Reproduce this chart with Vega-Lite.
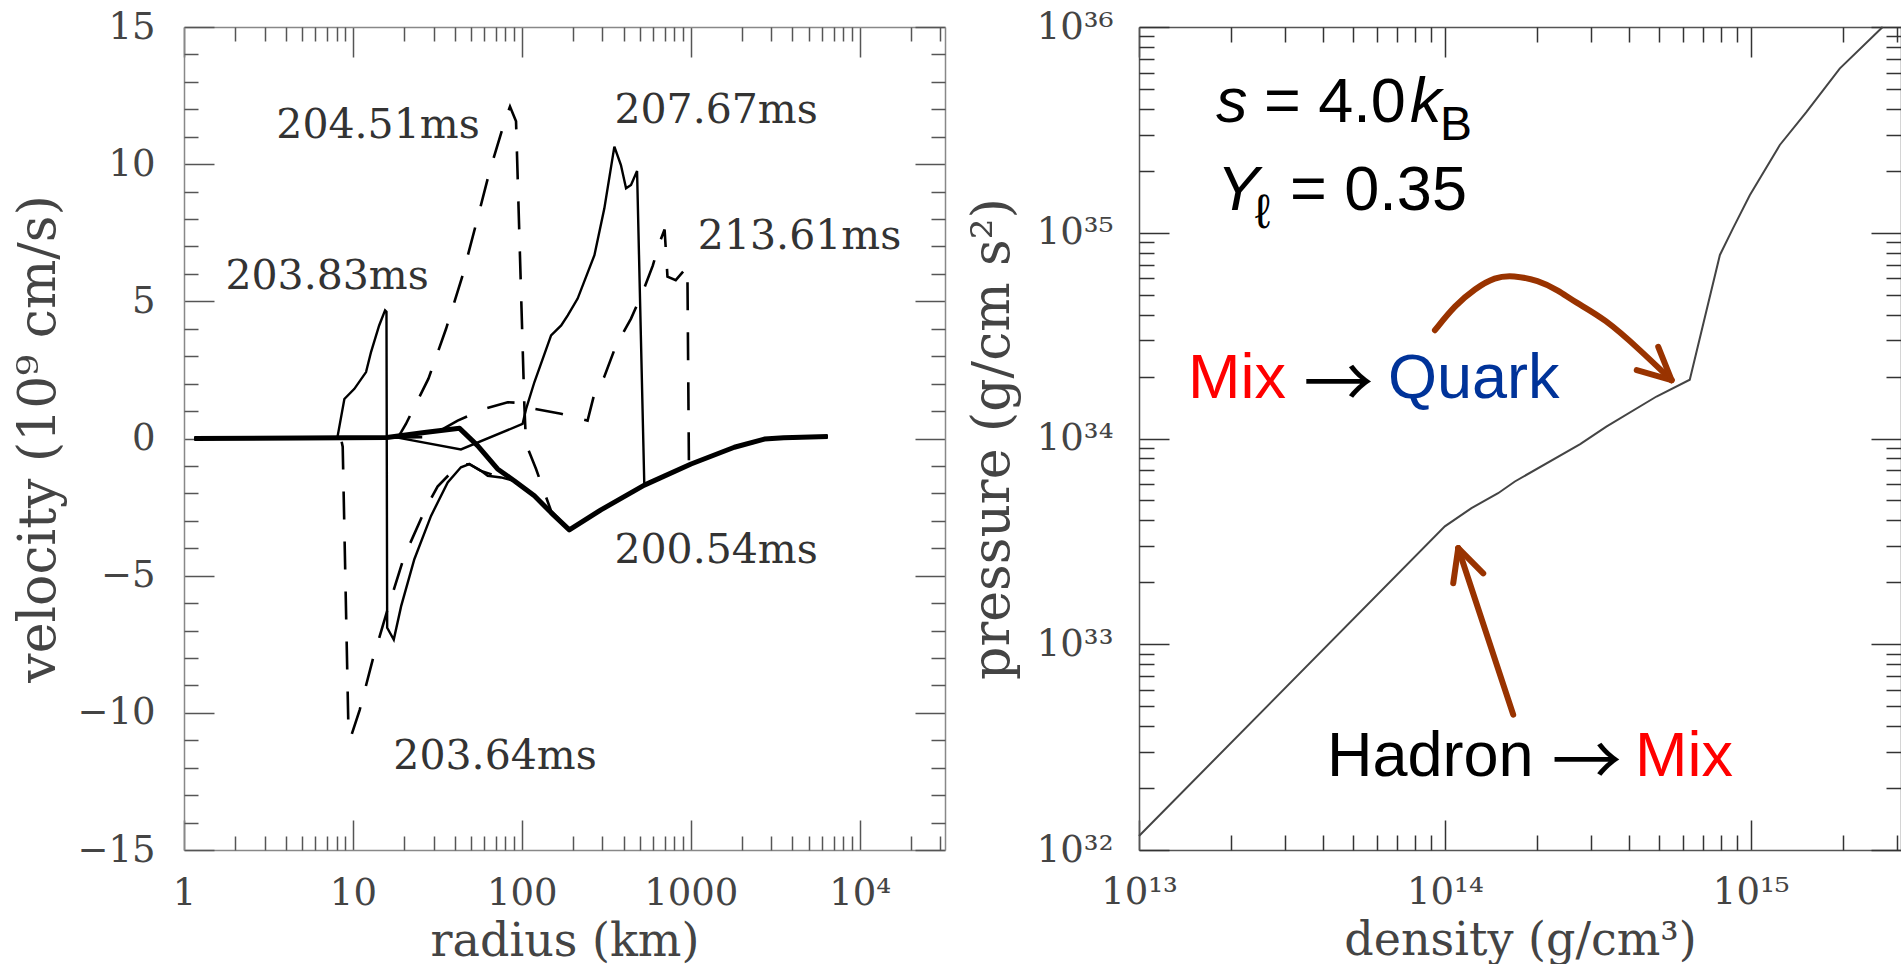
{
  "$schema": "https://vega.github.io/schema/vega-lite/v6.json",
  "background": "white",
  "padding": {"left": 12, "top": 8, "right": 4, "bottom": 0},
  "spacing": 20,
  "config": {
    "view": {"stroke": null},
    "axis": {"grid": false, "labelFlush": false, "labelOverlap": false, "labelBound": false, "titleFontWeight": "normal", "labelFont": "DejaVu Serif", "titleFont": "DejaVu Serif"}
  },
  "datasets": {
    "infall": [
      {"i": 1, "r": 1.15, "v": 0}, {"i": 2, "r": 5, "v": 0.02}, {"i": 3, "r": 15.9, "v": 0.04},
      {"i": 4, "r": 26.5, "v": 0.22}, {"i": 5, "r": 42.8, "v": 0.37}, {"i": 6, "r": 54.7, "v": -0.26},
      {"i": 7, "r": 71.8, "v": -1.11}, {"i": 8, "r": 90.1, "v": -1.54}, {"i": 9, "r": 118.6, "v": -2.09},
      {"i": 10, "r": 148.9, "v": -2.7}, {"i": 11, "r": 191, "v": -3.33}, {"i": 12, "r": 294, "v": -2.6},
      {"i": 13, "r": 531, "v": -1.7}, {"i": 14, "r": 1004, "v": -0.93}, {"i": 15, "r": 1812, "v": -0.32},
      {"i": 16, "r": 2729, "v": -0.02}, {"i": 17, "r": 3550, "v": 0.03}, {"i": 18, "r": 6470, "v": 0.07}
    ],
    "solid": [
      {"t": "203.83", "i": 1, "r": 1.15, "v": 0}, {"t": "203.83", "i": 2, "r": 8.1, "v": 0.05},
      {"t": "203.83", "i": 3, "r": 8.9, "v": 1.44}, {"t": "203.83", "i": 4, "r": 10.2, "v": 1.81},
      {"t": "203.83", "i": 5, "r": 11.96, "v": 2.42}, {"t": "203.83", "i": 6, "r": 12.8, "v": 3.15},
      {"t": "203.83", "i": 7, "r": 14.3, "v": 4.12}, {"t": "203.83", "i": 8, "r": 15.5, "v": 4.67},
      {"t": "203.83", "i": 9, "r": 15.8, "v": 4.62}, {"t": "203.83", "i": 10, "r": 15.95, "v": -6.9},
      {"t": "203.83", "i": 11, "r": 17.45, "v": -7.33}, {"t": "203.83", "i": 12, "r": 19.3, "v": -6.11},
      {"t": "203.83", "i": 13, "r": 23.1, "v": -4.4}, {"t": "203.83", "i": 14, "r": 29, "v": -2.82},
      {"t": "203.83", "i": 15, "r": 36.4, "v": -1.6}, {"t": "203.83", "i": 16, "r": 43.6, "v": -1.05},
      {"t": "203.83", "i": 17, "r": 48.9, "v": -0.93}, {"t": "203.83", "i": 18, "r": 57.3, "v": -1.18},
      {"t": "203.83", "i": 19, "r": 62.8, "v": -1.36}, {"t": "203.83", "i": 20, "r": 75.3, "v": -1.42},
      {"t": "203.83", "i": 21, "r": 90.1, "v": -1.54}, {"t": "203.83", "i": 22, "r": 118.6, "v": -2.09},
      {"t": "203.83", "i": 23, "r": 148.9, "v": -2.7}, {"t": "203.83", "i": 24, "r": 191, "v": -3.33},
      {"t": "203.83", "i": 25, "r": 294, "v": -2.6}, {"t": "203.83", "i": 26, "r": 531, "v": -1.7},
      {"t": "203.83", "i": 27, "r": 1004, "v": -0.93}, {"t": "203.83", "i": 28, "r": 1812, "v": -0.32},
      {"t": "203.83", "i": 29, "r": 2729, "v": -0.02}, {"t": "203.83", "i": 30, "r": 6470, "v": 0.07},
      {"t": "207.67", "i": 1, "r": 1.15, "v": 0}, {"t": "207.67", "i": 2, "r": 18.4, "v": 0.03},
      {"t": "207.67", "i": 3, "r": 43.6, "v": -0.4}, {"t": "207.67", "i": 4, "r": 101, "v": 0.53},
      {"t": "207.67", "i": 5, "r": 106, "v": 1.08}, {"t": "207.67", "i": 6, "r": 118.6, "v": 2.05},
      {"t": "207.67", "i": 7, "r": 149, "v": 3.76}, {"t": "207.67", "i": 8, "r": 171, "v": 4.12},
      {"t": "207.67", "i": 9, "r": 187, "v": 4.49}, {"t": "207.67", "i": 10, "r": 214, "v": 5.1},
      {"t": "207.67", "i": 11, "r": 269, "v": 6.68}, {"t": "207.67", "i": 12, "r": 308, "v": 8.39},
      {"t": "207.67", "i": 13, "r": 353, "v": 10.64}, {"t": "207.67", "i": 14, "r": 386, "v": 9.97},
      {"t": "207.67", "i": 15, "r": 414, "v": 9.12}, {"t": "207.67", "i": 16, "r": 443, "v": 9.24},
      {"t": "207.67", "i": 17, "r": 481, "v": 9.75}, {"t": "207.67", "i": 18, "r": 531, "v": -1.7},
      {"t": "207.67", "i": 19, "r": 1004, "v": -0.93}, {"t": "207.67", "i": 20, "r": 1812, "v": -0.32},
      {"t": "207.67", "i": 21, "r": 2729, "v": -0.02}, {"t": "207.67", "i": 22, "r": 6470, "v": 0.07}
    ],
    "dashed": [
      {"t": "203.64", "i": 1, "r": 1.15, "v": 0}, {"t": "203.64", "i": 2, "r": 8.5, "v": 0},
      {"t": "203.64", "i": 3, "r": 8.7, "v": -0.3}, {"t": "203.64", "i": 4, "r": 9.4, "v": -10.5},
      {"t": "203.64", "i": 5, "r": 9.7, "v": -10.9}, {"t": "203.64", "i": 6, "r": 10.96, "v": -9.9},
      {"t": "203.64", "i": 7, "r": 13.1, "v": -8.06}, {"t": "203.64", "i": 8, "r": 16, "v": -6.26},
      {"t": "203.64", "i": 9, "r": 20.1, "v": -4.31}, {"t": "203.64", "i": 10, "r": 27, "v": -2.54},
      {"t": "203.64", "i": 11, "r": 31.7, "v": -1.75}, {"t": "203.64", "i": 12, "r": 41.7, "v": -1.0},
      {"t": "203.64", "i": 13, "r": 48.9, "v": -0.93}, {"t": "203.64", "i": 14, "r": 57.3, "v": -1.18},
      {"t": "203.64", "i": 15, "r": 75.3, "v": -1.42}, {"t": "203.64", "i": 16, "r": 90.1, "v": -1.54},
      {"t": "203.64", "i": 17, "r": 118.6, "v": -2.09}, {"t": "203.64", "i": 18, "r": 148.9, "v": -2.7},
      {"t": "203.64", "i": 19, "r": 191, "v": -3.33}, {"t": "203.64", "i": 20, "r": 294, "v": -2.6},
      {"t": "203.64", "i": 21, "r": 531, "v": -1.7}, {"t": "203.64", "i": 22, "r": 1004, "v": -0.93},
      {"t": "203.64", "i": 23, "r": 1812, "v": -0.32}, {"t": "203.64", "i": 24, "r": 2729, "v": -0.02},
      {"t": "203.64", "i": 25, "r": 6470, "v": 0.07},
      {"t": "204.51", "i": 1, "r": 1.15, "v": 0}, {"t": "204.51", "i": 2, "r": 18.5, "v": 0.05},
      {"t": "204.51", "i": 3, "r": 19.3, "v": 0.23}, {"t": "204.51", "i": 4, "r": 20.6, "v": 0.53},
      {"t": "204.51", "i": 5, "r": 28, "v": 2.18}, {"t": "204.51", "i": 6, "r": 35.6, "v": 4.0},
      {"t": "204.51", "i": 7, "r": 44.2, "v": 5.86}, {"t": "204.51", "i": 8, "r": 53.5, "v": 7.8},
      {"t": "204.51", "i": 9, "r": 64.2, "v": 9.7}, {"t": "204.51", "i": 10, "r": 78.8, "v": 11.52},
      {"t": "204.51", "i": 11, "r": 85.1, "v": 12.1}, {"t": "204.51", "i": 12, "r": 92.4, "v": 11.56},
      {"t": "204.51", "i": 13, "r": 103.5, "v": 1.2}, {"t": "204.51", "i": 14, "r": 105.9, "v": -0.2},
      {"t": "204.51", "i": 15, "r": 121.4, "v": -1.11}, {"t": "204.51", "i": 16, "r": 136, "v": -1.97},
      {"t": "204.51", "i": 17, "r": 149, "v": -2.64}, {"t": "204.51", "i": 18, "r": 191, "v": -3.33},
      {"t": "204.51", "i": 19, "r": 294, "v": -2.6}, {"t": "204.51", "i": 20, "r": 531, "v": -1.7},
      {"t": "204.51", "i": 21, "r": 1004, "v": -0.93}, {"t": "204.51", "i": 22, "r": 1812, "v": -0.32},
      {"t": "204.51", "i": 23, "r": 2729, "v": -0.02}, {"t": "204.51", "i": 24, "r": 6470, "v": 0.07},
      {"t": "213.61", "i": 1, "r": 1.15, "v": 0}, {"t": "213.61", "i": 2, "r": 28, "v": 0.05},
      {"t": "213.61", "i": 3, "r": 41.7, "v": 0.65}, {"t": "213.61", "i": 4, "r": 60, "v": 1.08},
      {"t": "213.61", "i": 5, "r": 82.5, "v": 1.32}, {"t": "213.61", "i": 6, "r": 95, "v": 1.3},
      {"t": "213.61", "i": 7, "r": 118.6, "v": 1.08}, {"t": "213.61", "i": 8, "r": 170.6, "v": 0.9},
      {"t": "213.61", "i": 9, "r": 245, "v": 0.65}, {"t": "213.61", "i": 10, "r": 268.7, "v": 1.63},
      {"t": "213.61", "i": 11, "r": 307.7, "v": 2.25}, {"t": "213.61", "i": 12, "r": 361, "v": 3.39},
      {"t": "213.61", "i": 13, "r": 443, "v": 4.37}, {"t": "213.61", "i": 14, "r": 520, "v": 5.34},
      {"t": "213.61", "i": 15, "r": 596, "v": 6.3}, {"t": "213.61", "i": 16, "r": 650, "v": 7.1},
      {"t": "213.61", "i": 17, "r": 700, "v": 7.62}, {"t": "213.61", "i": 18, "r": 728, "v": 5.9},
      {"t": "213.61", "i": 19, "r": 815, "v": 5.77}, {"t": "213.61", "i": 20, "r": 955, "v": 6.26},
      {"t": "213.61", "i": 21, "r": 975, "v": -0.8}, {"t": "213.61", "i": 22, "r": 1004, "v": -0.93},
      {"t": "213.61", "i": 23, "r": 1812, "v": -0.32}, {"t": "213.61", "i": 24, "r": 2729, "v": -0.02},
      {"t": "213.61", "i": 25, "r": 6470, "v": 0.07}
    ],
    "timeLabels": [
      {"label": "204.51ms", "r": 14.08, "v": 11.38},
      {"label": "207.67ms", "r": 1412, "v": 11.93},
      {"label": "213.61ms", "r": 4406, "v": 7.36},
      {"label": "203.83ms", "r": 7.03, "v": 5.9},
      {"label": "200.54ms", "r": 1412, "v": -4.11},
      {"label": "203.64ms", "r": 69.4, "v": -11.6}
    ],
    "eos": [
      {"i": 1, "rho": 1e13, "p": 1.17e32}, {"i": 2, "rho": 1e14, "p": 3.74e33},
      {"i": 3, "rho": 1.222e14, "p": 4.59e33}, {"i": 4, "rho": 1.493e14, "p": 5.42e33},
      {"i": 5, "rho": 1.694e14, "p": 6.18e33}, {"i": 6, "rho": 2.77e14, "p": 9.4e33},
      {"i": 7, "rho": 3.373e14, "p": 1.143e34}, {"i": 8, "rho": 4.92e14, "p": 1.6e34},
      {"i": 9, "rho": 6.32e14, "p": 1.93e34}, {"i": 10, "rho": 7.93e14, "p": 7.8e34},
      {"i": 11, "rho": 8.75e14, "p": 1.05e35}, {"i": 12, "rho": 9.93e14, "p": 1.52e35},
      {"i": 13, "rho": 1.245e15, "p": 2.67e35}, {"i": 14, "rho": 1.52e15, "p": 3.86e35},
      {"i": 15, "rho": 1.954e15, "p": 6.28e35}, {"i": 16, "rho": 2.7e15, "p": 1e36}
    ],
    "curvedArrow": [
      {"i": 1, "rho": 9.28e13, "p": 3.36e34}, {"i": 2, "rho": 1.079e14, "p": 4.44e34},
      {"i": 3, "rho": 1.254e14, "p": 5.35e34}, {"i": 4, "rho": 1.458e14, "p": 6.1e34},
      {"i": 5, "rho": 1.673e14, "p": 6.21e34}, {"i": 6, "rho": 2.02e14, "p": 5.87e34},
      {"i": 7, "rho": 2.349e14, "p": 5.25e34}, {"i": 8, "rho": 2.663e14, "p": 4.6e34},
      {"i": 9, "rho": 3.337e14, "p": 3.82e34}, {"i": 10, "rho": 4.35e14, "p": 2.69e34},
      {"i": 11, "rho": 5.51e14, "p": 1.92e34}
    ],
    "arrowStrokes": [
      {"seg": "shaft", "i": 1, "rho": 1.673e14, "p": 4.55e32}, {"seg": "shaft", "i": 2, "rho": 1.106e14, "p": 2.93e33},
      {"seg": "headA1", "i": 1, "rho": 1.065e14, "p": 1.98e33}, {"seg": "headA1", "i": 2, "rho": 1.106e14, "p": 2.93e33},
      {"seg": "headA2", "i": 1, "rho": 1.335e14, "p": 2.21e33}, {"seg": "headA2", "i": 2, "rho": 1.106e14, "p": 2.93e33},
      {"seg": "headB1", "i": 1, "rho": 4.24e14, "p": 2.15e34}, {"seg": "headB1", "i": 2, "rho": 5.51e14, "p": 1.92e34},
      {"seg": "headB2", "i": 1, "rho": 4.985e14, "p": 2.79e34}, {"seg": "headB2", "i": 2, "rho": 5.51e14, "p": 1.92e34}
    ],
    "phases": [
      {"t": "Mix", "rho": 1.446e13, "p": 1.576e34},
      {"t": "Quark", "rho": 6.52e13, "p": 1.576e34},
      {"t": "Hadron", "rho": 4.118e13, "p": 2.284e32},
      {"t": "Mix", "rho": 4.182e14, "p": 2.284e32}
    ],
    "phaseArrows": [
      {"t": "→", "rho": 4.49e13, "p": 1.789e34},
      {"t": "→", "rho": 2.908e14, "p": 2.594e32}
    ],
    "paramItalic": [
      {"t": "s", "rho": 1.785e13, "p": 3.44e35},
      {"t": "k", "rho": 7.69e13, "p": 3.44e35},
      {"t": "Y", "rho": 1.8e13, "p": 1.288e35}
    ],
    "paramPlain": [
      {"t": "= 4.0", "rho": 2.563e13, "p": 3.44e35},
      {"t": "= 0.35", "rho": 3.117e13, "p": 1.288e35}
    ],
    "paramSub": [
      {"t": "B", "rho": 9.64e13, "p": 2.81e35},
      {"t": "ℓ", "rho": 2.394e13, "p": 1.053e35}
    ]
  },
  "hconcat": [
    {
      "width": 761,
      "height": 823,
      "resolve": {"axis": {"x": "independent", "y": "independent"}},
      "layer": [
        {
          "data": {"name": "infall"},
          "mark": {"type": "line", "color": "black", "strokeWidth": 5, "strokeJoin": "round"},
          "encoding": {
            "x": {"field": "r", "type": "quantitative", "scale": {"type": "log", "domain": [1, 32000]},
              "axis": {"orient": "bottom", "values": [1, 10, 100, 1000, 10000], "tickSize": -30, "tickWidth": 1.5, "tickColor": "#555",
                "domain": true, "domainColor": "#888", "domainWidth": 1.5,
                "labelExpr": "datum.value > 5000 ? '10⁴' : format(datum.value, 'd')",
                "labelFontSize": 37, "labelColor": "#444", "labelPadding": 55,
                "title": "radius (km)", "titleFontSize": 46, "titleColor": "#444", "titlePadding": 8}},
            "y": {"field": "v", "type": "quantitative", "scale": {"domain": [-15, 15]},
              "axis": {"orient": "left", "values": [-15, -10, -5, 0, 5, 10, 15], "tickSize": -30, "tickWidth": 1.5, "tickColor": "#555",
                "domain": true, "domainColor": "#888", "domainWidth": 1.5, "format": "d",
                "labelFontSize": 37, "labelColor": "#444", "labelPadding": 59,
                "title": "velocity (10⁹ cm/s)", "titleFontSize": 52, "titleColor": "#444", "titlePadding": 11}},
            "order": {"field": "i"}
          }
        },
        {
          "data": {"name": "solid"},
          "mark": {"type": "line", "color": "black", "strokeWidth": 2.4},
          "encoding": {
            "x": {"field": "r", "type": "quantitative", "scale": {"type": "log", "domain": [1, 32000]},
              "axis": {"orient": "bottom", "values": [2, 3, 4, 5, 6, 7, 8, 9, 20, 30, 40, 50, 60, 70, 80, 90, 200, 300, 400, 500, 600, 700, 800, 900, 2000, 3000, 4000, 5000, 6000, 7000, 8000, 9000, 20000, 30000],
                "tickSize": -14, "tickWidth": 1.5, "tickColor": "#555", "domain": false, "labels": false, "title": null}},
            "y": {"field": "v", "type": "quantitative", "scale": {"domain": [-15, 15]},
              "axis": {"orient": "left", "values": [-14, -13, -12, -11, -9, -8, -7, -6, -4, -3, -2, -1, 1, 2, 3, 4, 6, 7, 8, 9, 11, 12, 13, 14],
                "tickSize": -14, "tickWidth": 1.5, "tickColor": "#555", "domain": false, "labels": false, "title": null}},
            "detail": {"field": "t"},
            "order": {"field": "i"}
          }
        },
        {
          "data": {"name": "dashed"},
          "mark": {"type": "line", "color": "black", "strokeWidth": 2.6, "strokeDash": [28, 22]},
          "encoding": {
            "x": {"field": "r", "type": "quantitative", "scale": {"type": "log", "domain": [1, 32000]},
              "axis": {"orient": "top", "values": [1, 10, 100, 1000, 10000], "tickSize": -30, "tickWidth": 1.5, "tickColor": "#555",
                "domain": true, "domainColor": "#888", "domainWidth": 1.5, "labels": false, "title": null}},
            "y": {"field": "v", "type": "quantitative", "scale": {"domain": [-15, 15]},
              "axis": {"orient": "right", "values": [-15, -10, -5, 0, 5, 10, 15], "tickSize": -30, "tickWidth": 1.5, "tickColor": "#555",
                "domain": true, "domainColor": "#888", "domainWidth": 1.5, "labels": false, "title": null}},
            "detail": {"field": "t"},
            "order": {"field": "i"}
          }
        },
        {
          "data": {"name": "timeLabels"},
          "mark": {"type": "text", "font": "DejaVu Serif", "fontSize": 41, "color": "#333", "align": "center", "baseline": "middle"},
          "encoding": {
            "x": {"field": "r", "type": "quantitative", "scale": {"type": "log", "domain": [1, 32000]},
              "axis": {"orient": "top", "values": [2, 3, 4, 5, 6, 7, 8, 9, 20, 30, 40, 50, 60, 70, 80, 90, 200, 300, 400, 500, 600, 700, 800, 900, 2000, 3000, 4000, 5000, 6000, 7000, 8000, 9000, 20000, 30000],
                "tickSize": -14, "tickWidth": 1.5, "tickColor": "#555", "domain": false, "labels": false, "title": null}},
            "y": {"field": "v", "type": "quantitative", "scale": {"domain": [-15, 15]},
              "axis": {"orient": "right", "values": [-14, -13, -12, -11, -9, -8, -7, -6, -4, -3, -2, -1, 1, 2, 3, 4, 6, 7, 8, 9, 11, 12, 13, 14],
                "tickSize": -14, "tickWidth": 1.5, "tickColor": "#555", "domain": false, "labels": false, "title": null}},
            "text": {"field": "label"}
          }
        }
      ]
    },
    {
      "width": 762,
      "height": 823,
      "resolve": {"axis": {"x": "independent", "y": "independent"}},
      "layer": [
        {
          "data": {"name": "eos"},
          "mark": {"type": "line", "color": "#444", "strokeWidth": 2},
          "encoding": {
            "x": {"field": "rho", "type": "quantitative", "scale": {"type": "log", "domain": [1e13, 3.1e15]},
              "axis": {"orient": "bottom", "values": [1e13, 1e14, 1e15], "tickSize": -30, "tickWidth": 1.5, "tickColor": "#333",
                "domain": true, "domainColor": "#555", "domainWidth": 1.5,
                "labelExpr": "datum.value < 5e13 ? '10¹³' : datum.value < 5e14 ? '10¹⁴' : '10¹⁵'",
                "labelFontSize": 37, "labelColor": "#444", "labelPadding": 54,
                "title": "density (g/cm³)", "titleFontSize": 46, "titleColor": "#444", "titlePadding": 8}},
            "y": {"field": "p", "type": "quantitative", "scale": {"type": "log", "domain": [1e32, 1e36]},
              "axis": {"orient": "left", "values": [1e32, 1e33, 1e34, 1e35, 1e36], "tickSize": -30, "tickWidth": 1.5, "tickColor": "#333",
                "domain": true, "domainColor": "#555", "domainWidth": 1.5,
                "labelExpr": "datum.value < 5e32 ? '10³²' : datum.value < 5e33 ? '10³³' : datum.value < 5e34 ? '10³⁴' : datum.value < 5e35 ? '10³⁵' : '10³⁶'",
                "labelFontSize": 37, "labelColor": "#444", "labelPadding": 56,
                "title": "pressure (g/cm s²)", "titleFontSize": 52, "titleColor": "#444", "titlePadding": 17}},
            "order": {"field": "i"}
          }
        },
        {
          "data": {"name": "curvedArrow"},
          "mark": {"type": "line", "color": "#993300", "strokeWidth": 6, "strokeCap": "round", "interpolate": "basis"},
          "encoding": {
            "x": {"field": "rho", "type": "quantitative", "scale": {"type": "log", "domain": [1e13, 3.1e15]},
              "axis": {"orient": "bottom", "values": [2e13, 3e13, 4e13, 5e13, 6e13, 7e13, 8e13, 9e13, 2e14, 3e14, 4e14, 5e14, 6e14, 7e14, 8e14, 9e14, 2e15, 3e15],
                "tickSize": -15, "tickWidth": 1.5, "tickColor": "#333", "domain": false, "labels": false, "title": null}},
            "y": {"field": "p", "type": "quantitative", "scale": {"type": "log", "domain": [1e32, 1e36]},
              "axis": {"orient": "left", "values": [2e32, 3e32, 4e32, 5e32, 6e32, 7e32, 8e32, 9e32, 2e33, 3e33, 4e33, 5e33, 6e33, 7e33, 8e33, 9e33, 2e34, 3e34, 4e34, 5e34, 6e34, 7e34, 8e34, 9e34, 2e35, 3e35, 4e35, 5e35, 6e35, 7e35, 8e35, 9e35],
                "tickSize": -15, "tickWidth": 1.5, "tickColor": "#333", "domain": false, "labels": false, "title": null}},
            "order": {"field": "i"}
          }
        },
        {
          "data": {"name": "arrowStrokes"},
          "mark": {"type": "line", "color": "#993300", "strokeWidth": 6, "strokeCap": "round"},
          "encoding": {
            "x": {"field": "rho", "type": "quantitative", "scale": {"type": "log", "domain": [1e13, 3.1e15]},
              "axis": {"orient": "top", "values": [1e13, 1e14, 1e15], "tickSize": -30, "tickWidth": 1.5, "tickColor": "#333",
                "domain": true, "domainColor": "#555", "domainWidth": 1.5, "labels": false, "title": null}},
            "y": {"field": "p", "type": "quantitative", "scale": {"type": "log", "domain": [1e32, 1e36]},
              "axis": {"orient": "right", "values": [1e32, 1e33, 1e34, 1e35, 1e36], "tickSize": -30, "tickWidth": 1.5, "tickColor": "#333",
                "domain": true, "domainColor": "#555", "domainWidth": 1.5, "labels": false, "title": null}},
            "detail": {"field": "seg"},
            "order": {"field": "i"}
          }
        },
        {
          "data": {"name": "phases"},
          "mark": {"type": "text", "font": "Liberation Sans", "fontSize": 63, "align": "left", "baseline": "alphabetic"},
          "encoding": {
            "x": {"field": "rho", "type": "quantitative", "scale": {"type": "log", "domain": [1e13, 3.1e15]},
              "axis": {"orient": "top", "values": [2e13, 3e13, 4e13, 5e13, 6e13, 7e13, 8e13, 9e13, 2e14, 3e14, 4e14, 5e14, 6e14, 7e14, 8e14, 9e14, 2e15, 3e15],
                "tickSize": -15, "tickWidth": 1.5, "tickColor": "#333", "domain": false, "labels": false, "title": null}},
            "y": {"field": "p", "type": "quantitative", "scale": {"type": "log", "domain": [1e32, 1e36]},
              "axis": {"orient": "right", "values": [2e32, 3e32, 4e32, 5e32, 6e32, 7e32, 8e32, 9e32, 2e33, 3e33, 4e33, 5e33, 6e33, 7e33, 8e33, 9e33, 2e34, 3e34, 4e34, 5e34, 6e34, 7e34, 8e34, 9e34, 2e35, 3e35, 4e35, 5e35, 6e35, 7e35, 8e35, 9e35],
                "tickSize": -15, "tickWidth": 1.5, "tickColor": "#333", "domain": false, "labels": false, "title": null}},
            "text": {"field": "t"},
            "color": {"field": "t", "type": "nominal", "legend": null,
              "scale": {"domain": ["Mix", "Quark", "Hadron"], "range": ["#ff0000", "#003399", "#000000"]}}
          }
        },
        {
          "data": {"name": "phaseArrows"},
          "mark": {"type": "text", "font": "Noto Sans CJK JP", "fontSize": 70, "color": "black", "align": "center", "baseline": "middle"},
          "encoding": {
            "x": {"field": "rho", "type": "quantitative", "scale": {"type": "log", "domain": [1e13, 3.1e15]}, "axis": null},
            "y": {"field": "p", "type": "quantitative", "scale": {"type": "log", "domain": [1e32, 1e36]}, "axis": null},
            "text": {"field": "t"}
          }
        },
        {
          "data": {"name": "paramItalic"},
          "mark": {"type": "text", "font": "Liberation Sans", "fontSize": 63, "fontStyle": "italic", "color": "black", "align": "left", "baseline": "alphabetic"},
          "encoding": {
            "x": {"field": "rho", "type": "quantitative", "scale": {"type": "log", "domain": [1e13, 3.1e15]}, "axis": null},
            "y": {"field": "p", "type": "quantitative", "scale": {"type": "log", "domain": [1e32, 1e36]}, "axis": null},
            "text": {"field": "t"}
          }
        },
        {
          "data": {"name": "paramPlain"},
          "mark": {"type": "text", "font": "Liberation Sans", "fontSize": 63, "color": "black", "align": "left", "baseline": "alphabetic"},
          "encoding": {
            "x": {"field": "rho", "type": "quantitative", "scale": {"type": "log", "domain": [1e13, 3.1e15]}, "axis": null},
            "y": {"field": "p", "type": "quantitative", "scale": {"type": "log", "domain": [1e32, 1e36]}, "axis": null},
            "text": {"field": "t"}
          }
        },
        {
          "data": {"name": "paramSub"},
          "mark": {"type": "text", "font": "Liberation Sans", "fontSize": 48, "color": "black", "align": "left", "baseline": "alphabetic"},
          "encoding": {
            "x": {"field": "rho", "type": "quantitative", "scale": {"type": "log", "domain": [1e13, 3.1e15]}, "axis": null},
            "y": {"field": "p", "type": "quantitative", "scale": {"type": "log", "domain": [1e32, 1e36]}, "axis": null},
            "text": {"field": "t"}
          }
        }
      ]
    }
  ]
}
